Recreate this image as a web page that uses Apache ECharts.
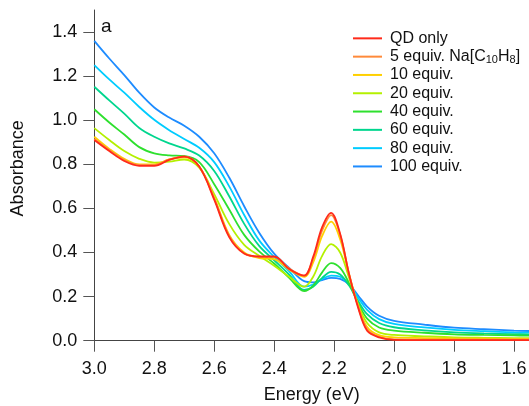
<!DOCTYPE html>
<html>
<head>
<meta charset="utf-8">
<script src="https://cdn.jsdelivr.net/npm/echarts@6/dist/echarts.min.js"></script>
<style>
html,body{margin:0;padding:0;background:#fff;}
#chart{width:529px;height:406px;}
</style>
</head>
<body>
<div id="chart"></div>
<script>
// Energy grid (eV)
var energy = [3.00, 2.95, 2.90, 2.85, 2.80, 2.75, 2.70, 2.65, 2.60, 2.55, 2.50, 2.45, 2.40, 2.35, 2.30, 2.27, 2.24, 2.21, 2.18, 2.15, 2.12, 2.09, 2.05, 2.00, 1.90, 1.80, 1.70, 1.60, 1.55];

var seriesNames = ['QD only', '5 equiv. Na[C10H8]', '10 equiv.', '20 equiv.', '40 equiv.', '60 equiv.', '80 equiv.', '100 equiv.'];

var qdOnly   = [0.910, 0.860, 0.815, 0.793, 0.793, 0.820, 0.835, 0.790, 0.640, 0.470, 0.395, 0.382, 0.382, 0.325, 0.295, 0.380, 0.515, 0.580, 0.485, 0.300, 0.150, 0.045, 0.015, 0.004, 0.003, 0.003, 0.003, 0.003, 0.003];
var eq5      = [0.915, 0.865, 0.820, 0.797, 0.797, 0.822, 0.836, 0.790, 0.645, 0.475, 0.395, 0.380, 0.380, 0.328, 0.295, 0.372, 0.500, 0.570, 0.480, 0.302, 0.155, 0.052, 0.018, 0.006, 0.005, 0.005, 0.005, 0.005, 0.005];
var eq10     = [0.925, 0.870, 0.825, 0.800, 0.800, 0.822, 0.832, 0.790, 0.650, 0.480, 0.400, 0.375, 0.370, 0.322, 0.290, 0.355, 0.475, 0.540, 0.460, 0.300, 0.160, 0.062, 0.025, 0.015, 0.012, 0.010, 0.009, 0.008, 0.008];
var eq20     = [0.964, 0.910, 0.860, 0.825, 0.808, 0.812, 0.822, 0.785, 0.665, 0.530, 0.435, 0.385, 0.340, 0.290, 0.245, 0.290, 0.385, 0.438, 0.400, 0.285, 0.165, 0.080, 0.038, 0.026, 0.020, 0.015, 0.013, 0.012, 0.012];
var eq40     = [1.050, 0.990, 0.935, 0.878, 0.850, 0.841, 0.838, 0.810, 0.710, 0.595, 0.480, 0.405, 0.350, 0.285, 0.225, 0.250, 0.310, 0.352, 0.330, 0.260, 0.170, 0.100, 0.060, 0.046, 0.036, 0.029, 0.026, 0.024, 0.023];
var eq60     = [1.152, 1.090, 1.030, 0.965, 0.925, 0.895, 0.872, 0.840, 0.770, 0.655, 0.530, 0.430, 0.365, 0.300, 0.230, 0.245, 0.285, 0.312, 0.300, 0.250, 0.180, 0.120, 0.080, 0.061, 0.047, 0.038, 0.033, 0.030, 0.029];
var eq80     = [1.250, 1.185, 1.125, 1.060, 1.002, 0.955, 0.915, 0.875, 0.810, 0.700, 0.570, 0.455, 0.380, 0.315, 0.245, 0.255, 0.280, 0.295, 0.290, 0.255, 0.195, 0.140, 0.098, 0.076, 0.060, 0.049, 0.043, 0.038, 0.037];
var eq100    = [1.360, 1.280, 1.205, 1.125, 1.058, 1.012, 0.975, 0.925, 0.850, 0.740, 0.610, 0.490, 0.395, 0.330, 0.270, 0.265, 0.275, 0.285, 0.280, 0.255, 0.205, 0.155, 0.113, 0.090, 0.073, 0.059, 0.052, 0.046, 0.044];

var xTicks = [3.0, 2.8, 2.6, 2.4, 2.2, 2.0, 1.8, 1.6];
var yTicks = [0.0, 0.2, 0.4, 0.6, 0.8, 1.0, 1.2, 1.4];

var colors = ['#ff2a1a', '#ff8a3a', '#ffd000', '#b4f000', '#2ee02e', '#00d68e', '#00ccff', '#1e8cff'];
var allValues = [qdOnly, eq5, eq10, eq20, eq40, eq60, eq80, eq100];

var series = [];
for (var i = allValues.length - 1; i >= 0; i--) {
  series.push({
    name: seriesNames[i],
    type: 'line',
    smooth: 0.35,
    symbol: 'none',
    color: colors[i],
    lineStyle: {width: 1.8, color: colors[i]},
    data: energy.map(function (e, k) { return [e, allValues[i][k]]; })
  });
}

var FONT = 'Liberation Sans, Arial, sans-serif';
var chart = echarts.init(document.getElementById('chart'));
chart.setOption({
  animation: false,
  backgroundColor: '#fff',
  grid: {left: 94.3, right: 0, top: 10, bottom: 65.3, containLabel: false, outerBoundsMode: 'none'},
  legend: {
    data: seriesNames,
    orient: 'vertical',
    left: 353,
    top: 29.2,
    padding: 0,
    icon: 'rect',
    itemWidth: 29,
    itemHeight: 2,
    itemGap: 0,
    textStyle: {
      fontFamily: FONT, fontSize: 16, color: '#111', lineHeight: 18.3, padding: [0, 0, 0, 3],
      rich: {
        n: {fontFamily: FONT, fontSize: 16, color: '#111', lineHeight: 18.3},
        s: {fontFamily: FONT, fontSize: 11, color: '#111', lineHeight: 18.3, padding: [7, 0, 0, 0]}
      }
    },
    formatter: function (name) {
      if (name.indexOf('Na[') >= 0) {
        return '{n|5 equiv. Na[C}{s|10}{n|H}{s|8}{n|]}';
      }
      return name;
    }
  },
  graphic: [{
    type: 'text', left: 101, top: 17,
    style: {text: 'a', font: '19px ' + FONT, fill: '#111'}
  }],
  xAxis: {
    type: 'value',
    inverse: true,
    min: 1.55,
    max: 3.0,
    name: 'Energy (eV)',
    nameLocation: 'middle',
    nameGap: 45,
    nameTextStyle: {fontFamily: FONT, fontSize: 18, color: '#111'},
    axisLine: {show: true, onZero: false, lineStyle: {color: '#444', width: 1}},
    axisTick: {show: true, length: 11, lineStyle: {color: '#555'}, customValues: xTicks},
    axisLabel: {fontFamily: FONT, fontSize: 18, color: '#111', margin: 19, customValues: xTicks,
      formatter: function (v) { return v.toFixed(1); }},
    splitLine: {show: false}
  },
  yAxis: {
    type: 'value',
    min: 0,
    max: 1.5,
    name: 'Absorbance',
    nameLocation: 'middle',
    nameGap: 67,
    nameTextStyle: {fontFamily: FONT, fontSize: 18, color: '#111', padding: [0, 0, 0, 14]},
    axisLine: {show: true, lineStyle: {color: '#444', width: 1}},
    axisTick: {show: true, length: 11, lineStyle: {color: '#555'}, customValues: yTicks},
    axisLabel: {fontFamily: FONT, fontSize: 18, color: '#111', margin: 17, customValues: yTicks,
      formatter: function (v) { return v.toFixed(1); }},
    splitLine: {show: false}
  },
  series: series
});
</script>
</body>
</html>
